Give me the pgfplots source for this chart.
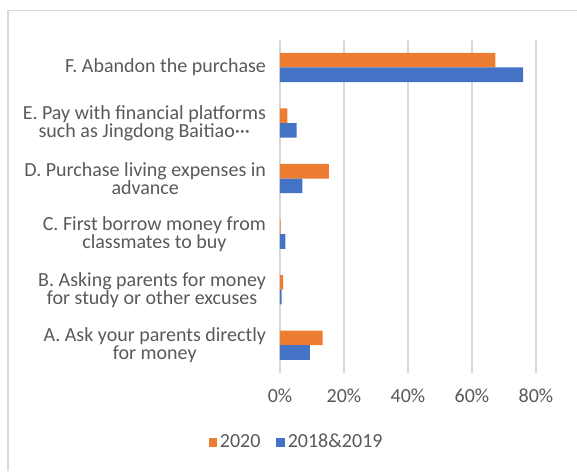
\documentclass[border=0pt]{standalone}
\usepackage{pgfplots}
\pgfplotsset{compat=1.18}
\usepackage{fontspec}
\setmainfont{Carlito}
\definecolor{txt}{HTML}{595959}
\definecolor{gridc}{HTML}{D9D9D9}
\definecolor{c2020}{HTML}{ED7D31}
\definecolor{c1819}{HTML}{4472C4}

\begin{document}
\begin{tikzpicture}
\useasboundingbox (-210pt,-73.5pt) rectangle (222.75pt,279.75pt);
\draw[gridc, line width=1.1pt] (-204pt,-73.5pt) -- (-204pt,271.9pt) -- (222.75pt,271.9pt);
\begin{axis}[
  xbar,
  scale only axis,
  width=192pt,
  height=250pt,
  xmin=0, xmax=80,
  ymin=-0.5, ymax=5.5,
  bar width=11pt,
  xtick={0,20,40,60,80},
  xticklabel={\pgfmathprintnumber{\tick}\%},
  ytick={0,1,2,3,4,5},
  yticklabels={
    {A. Ask your parents directly\\for money},
    {B. Asking parents for money\\for study or other excuses},
    {C. First borrow money from\\classmates to buy},
    {D. Purchase living expenses in\\advance},
    {E. Pay with financial platforms\\such as Jingdong Baitiao···},
    {F. Abandon the purchase}},
  yticklabel style={align=center, font=\fontsize{15pt}{13.5pt}\selectfont, text=txt, xshift=-7pt},
  xticklabel style={font=\fontsize{15pt}{16pt}\selectfont, text=txt, yshift=-8pt},
  /pgf/number format/assume math mode=true,
  major tick length=0pt,
  axis line style={draw=none},
  xmajorgrids,
  major grid style={gridc, line width=1.1pt},
  legend style={at={(0.066,-0.207)}, anchor=center, draw=none, legend columns=2,
    font=\fontsize{15pt}{16pt}\selectfont, text=txt,
    /tikz/every even column/.append style={column sep=10pt}},
  legend image code/.code={\fill[#1] (0pt,-3.5pt) rectangle (6.5pt,3pt);},
]
\addplot[fill=c2020, draw=none, bar shift=5.5pt] coordinates {
  (13.3,0) (1.0,1) (0.2,2) (15.3,3) (2.3,4) (67.3,5)
};
\addplot[fill=c1819, draw=none, bar shift=-5.5pt] coordinates {
  (9.3,0) (0.5,1) (1.7,2) (7.0,3) (5.2,4) (76.0,5)
};
\legend{2020, 2018\&2019}
\end{axis}
\end{tikzpicture}
\end{document}
